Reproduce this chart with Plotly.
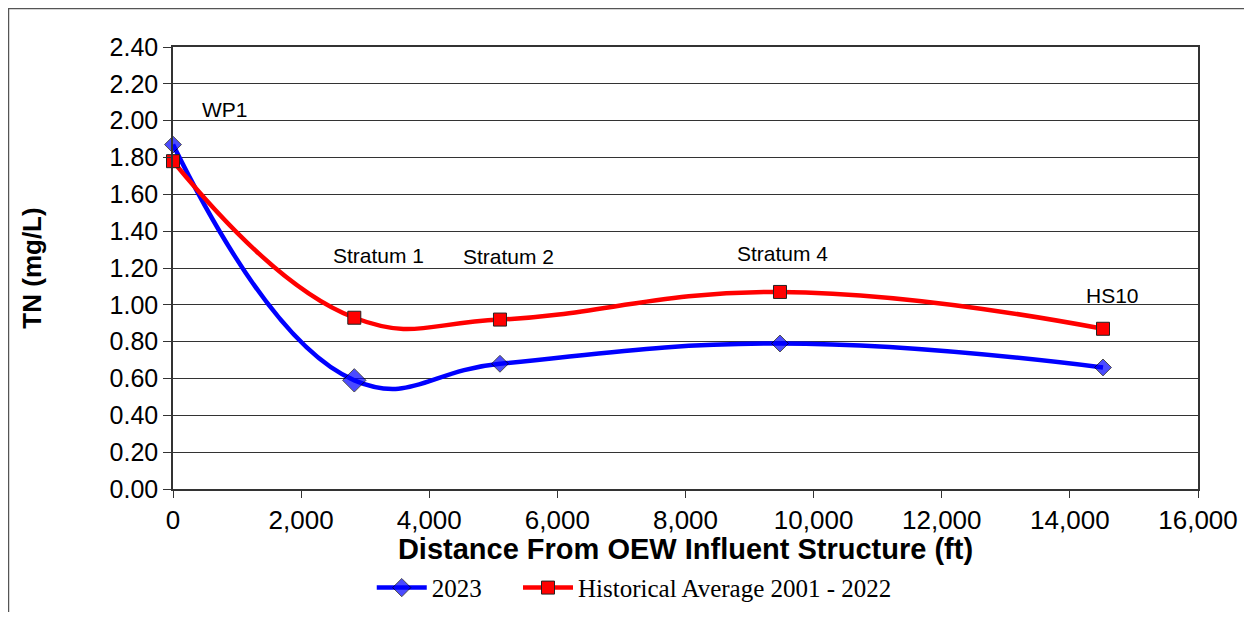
import plotly.graph_objects as go

# distances (ft) of the stations from the OEW influent structure
distance_ft = [0, 2830, 5104, 9475, 14517]
station_labels = ["WP1", "Stratum 1", "Stratum 2", "Stratum 4", "HS10"]

tn_2023 = [1.87, 0.59, 0.68, 0.79, 0.66]
tn_hist = [1.78, 0.93, 0.92, 1.07, 0.87]

# label anchor points (data coords)
label_x = [812, 3200, 5230, 9520, 14660]
label_y = [2.06, 1.27, 1.265, 1.28, 1.05]

y_ticks = [i * 0.2 for i in range(13)]
x_ticks = list(range(0, 16001, 2000))

FONT = "Liberation Sans, Arial, sans-serif"
SERIF = "Liberation Serif, Times New Roman, serif"
GAP = "\u00a0" * 5  # extra room between legend entries

fig = go.Figure()

fig.add_trace(go.Scatter(
    x=distance_ft, y=tn_2023, name="2023" + GAP,
    mode="lines+markers", cliponaxis=False,
    line=dict(color="#0000ff", width=4.5, shape="spline", smoothing=1.25),
    marker=dict(symbol="diamond", size=[13, 18, 13, 13, 13], color="#0000ff",
                line=dict(color="black", width=1)),
))
fig.add_trace(go.Scatter(
    x=distance_ft, y=tn_hist, name="Historical Average 2001 - 2022",
    mode="lines+markers", cliponaxis=False,
    line=dict(color="#ff0000", width=4.5, shape="spline", smoothing=1.25),
    marker=dict(symbol="square", size=13, color="#ff0000",
                line=dict(color="#222", width=1)),
))

for lab, lx, ly in zip(station_labels, label_x, label_y):
    fig.add_annotation(x=lx, y=ly, text=lab, showarrow=False,
                       font=dict(family=FONT, size=21, color="black"))

# outer chart border (Excel chart area)
fig.add_shape(type="rect", xref="paper", yref="paper",
              x0=-0.1605, x1=1.08, y0=-0.35, y1=1.0871,
              line=dict(color="#555", width=1.5), layer="below")

fig.update_layout(
    width=1236, height=604,
    paper_bgcolor="white", plot_bgcolor="white",
    margin=dict(l=165, r=46, t=39, b=123),
    font=dict(family=FONT, color="black"),
    showlegend=True,
    legend=dict(orientation="h", x=0.45, xanchor="center",
                yref="container", y=0.04, yanchor="middle",
                font=dict(family=SERIF, size=25, color="black"),
                itemwidth=50, bgcolor="rgba(0,0,0,0)"),
    xaxis=dict(
        range=[0, 16000], tickvals=x_ticks, tickformat=",d",
        showgrid=False, zeroline=False, automargin=False,
        showline=True, linecolor="#333", linewidth=1.5, mirror=True,
        ticks="outside", ticklen=7, tickcolor="#333",
        tickfont=dict(size=26),
        title=dict(text="<b>Distance From OEW Influent Structure (ft)</b>",
                   font=dict(size=29), standoff=18),
    ),
    yaxis=dict(
        range=[0, 2.4], tickvals=y_ticks, tickformat=".2f",
        showgrid=True, gridcolor="#333", gridwidth=1, zeroline=False, automargin=False,
        showline=True, linecolor="#333", linewidth=1.5, mirror=True,
        ticks="outside", ticklen=8, tickcolor="#333",
        tickfont=dict(size=25),
        title=dict(text="<b>TN (mg/L)</b>", font=dict(size=26), standoff=60),
    ),
)

fig.write_html("out.html")
